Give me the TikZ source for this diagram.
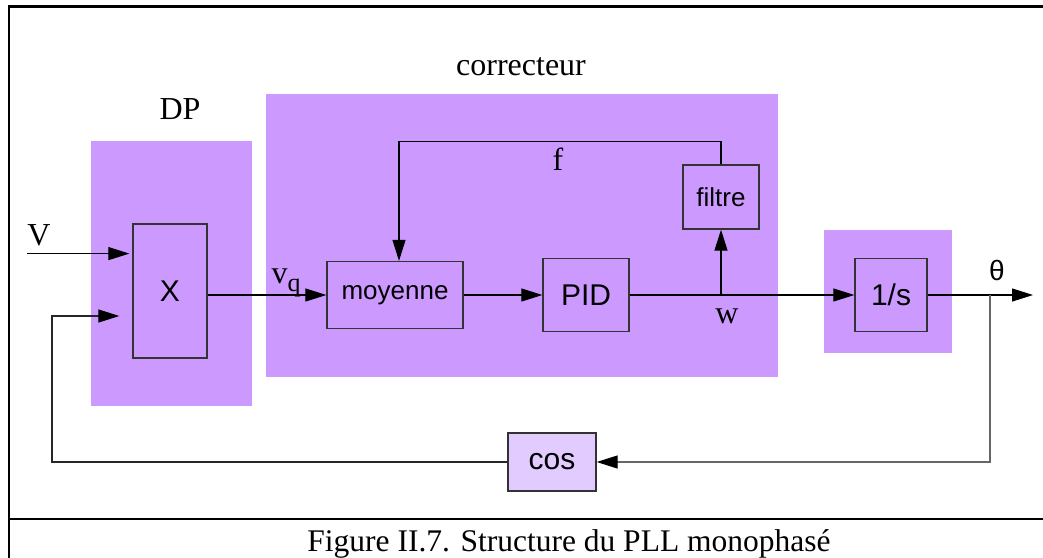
\documentclass[tikz,border=0pt]{standalone}
\usepackage{fontspec}
\setmainfont{Liberation Serif}
\setsansfont{Liberation Sans}
\usetikzlibrary{arrows.meta,positioning}
\usepackage{xcolor}
\definecolor{violetzone}{RGB}{204,153,255}
\definecolor{violetlight}{RGB}{226,204,255}

\begin{document}
\begin{tikzpicture}[
    x=1pt, y=-1pt,
    region/.style={rectangle, fill=violetzone, inner sep=0pt},
    block/.style={rectangle, draw=black!80, line width=1.3pt, fill=violetzone, inner sep=0pt, font=\sffamily\fontsize{30}{36}\selectfont},
    small/.style={font=\sffamily\fontsize{26}{31}\selectfont},
    tag/.style={inner sep=0pt, anchor=base, font=\fontsize{32}{38}\selectfont},
    line/.style={draw, line width=1.1pt, -{Triangle[length=21pt,width=13pt]}},
    loop/.style={draw=black!60, line width=1.2pt, -{Triangle[length=21pt,width=13pt,color=black,fill=black]}}
    ]
    \useasboundingbox (0,0) rectangle (1043,557);

    % frame
    \draw [line width=2.5pt] (9,560) -- (9,6.4) -- (1050,6.4);
    \draw [line width=2.5pt] (9,519) -- (1050,519);

    % zones
    \node [region, minimum width=161pt, minimum height=265pt] (dpzone) at (171.5,273.5) {};
    \node [region, minimum width=512pt, minimum height=283pt] (corrzone) at (522,235.5) {};
    \node [region, minimum width=128pt, minimum height=123pt] (intzone) at (888,291.5) {};

    % blocks
    \node [block, minimum width=74pt, minimum height=134pt] (mult) at (170,291) {X};
    \node [block, small, minimum width=136pt, minimum height=67pt] (moyenne) at (395,295) {moyenne};
    \node [block, minimum width=86pt, minimum height=73pt] (pid) at (586,295) {PID};
    \node [block, small, minimum width=76pt, minimum height=64pt] (filtre) at (721,197) {filtre};
    \node [block, minimum width=72pt, minimum height=73pt] (integ) at (891,295) {1/s};
    \node [block, fill=violetlight, minimum width=88pt, minimum height=58pt] (cosbox) at (552,462) {cos};

    % texts
    \node [tag] (dptag) at (180,119.7) {DP};
    \node [tag] (corrtag) at (521,75) {correcteur};
    \node [tag] (vtag) at (39,245) {V};
    \node [tag] (vqtag) at (286,283) {v\raisebox{-8pt}{\fontsize{26}{30}\selectfont q}};
    \node [tag] (ftag) at (558,170) {f};
    \node [tag] (wtag) at (727,323) {w};
    \node [tag, font=\sffamily\fontsize{28}{34}\selectfont] (thetatag) at (997,280) {θ};
    \node [tag, font=\fontsize{31.5}{38}\selectfont] (caption) at (569,551) {Figure II.7. Structure du PLL monophasé};

    % connectors
    \coordinate (vstart) at (27,253.6);
    \coordinate (loopin) at (52,316);
    \coordinate (wnode) at (721,295);
    \coordinate (thbranch) at (990,295);
    \coordinate (thetaout) at (1033,295);

    \path [line, shorten >=3pt] (vstart) -- (vstart -| mult.west);
    \path [loop, draw=black!85, shorten >=13pt] (cosbox.west) -| (loopin) -- (loopin -| mult.west);
    \path [line] (mult.east |- moyenne.west) -- (moyenne.west);
    \path [line] (moyenne.east) -- (pid.west);
    \path [line] (pid.east) -- (integ.west);
    \path [line] (wnode) -- (filtre.south);
    \path [line] (filtre.north) -- ++(0,-23) -| ([xshift=4pt]moyenne.north);
    \path [line] (integ.east) -- (thetaout);
    \path [loop] (thbranch) |- (cosbox.east);
\end{tikzpicture}
\end{document}
